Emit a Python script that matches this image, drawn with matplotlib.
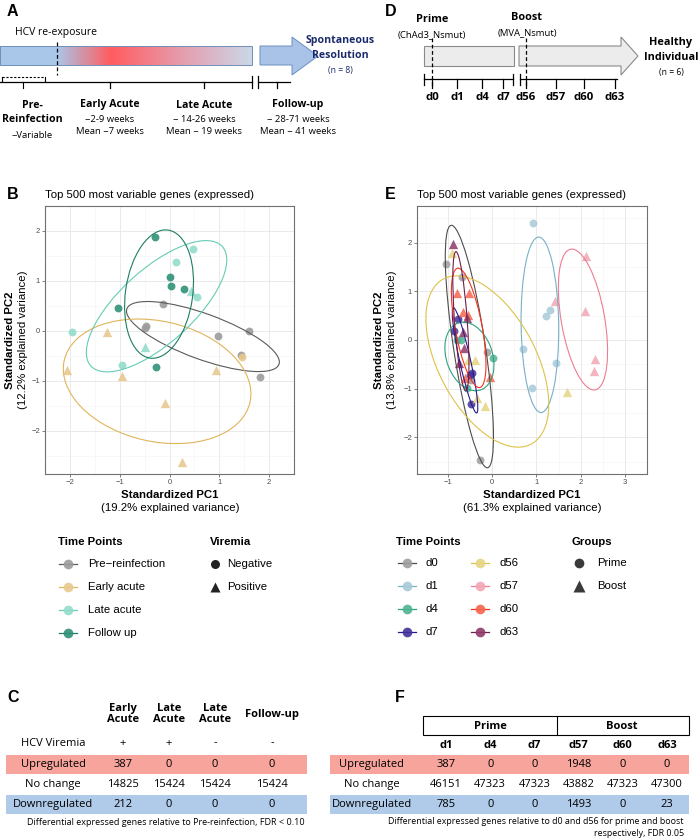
import numpy as np
import matplotlib
matplotlib.use("Agg")
import matplotlib.pyplot as plt
from matplotlib.patches import Ellipse, Rectangle, Polygon
from matplotlib.colors import LinearSegmentedColormap

plt.rcParams["font.family"] = ["Liberation Sans", "DejaVu Sans"]
SCHEME_FONT = ["Open Sans", "DejaVu Sans"]
FS = 8.2  # plot text size

# ---------------- data ----------------
# panel B: HCV reinfection PCA
b_groups = ["Pre\u2212reinfection", "Early acute", "Late acute", "Follow up"]
b_point_cols = ["#9b9b9b", "#e8c98e", "#93dccb", "#2f9178"]
b_line_cols = ["#5a5a5a", "#e0b45a", "#66ccb4", "#1d7d63"]
b_pc1 = [
    [-0.14, -0.48, -0.50, 0.97, 1.60, 1.43, 1.82],
    [-1.26, -2.06, -0.95, 0.93, -0.10, 0.25, 1.45],
    [0.47, 0.13, 0.55, -1.95, -0.96, 0.44, -0.50],
    [-0.30, 0.00, 0.04, 0.30, -1.03, -0.27],
]
b_pc2 = [
    [0.54, 0.10, 0.05, -0.10, 0.00, -0.48, -0.92],
    [-0.03, -0.78, -0.91, -0.78, -1.45, -2.62, -0.52],
    [1.64, 1.38, 0.67, -0.03, -0.69, 0.79, -0.32],
    [1.87, 1.07, 0.90, 0.83, 0.46, -0.72],
]
# 1 = viremia positive (triangle)
b_viremia = [
    [0, 0, 0, 0, 0, 0, 0],
    [1, 1, 1, 1, 1, 1, 0],
    [0, 0, 0, 0, 0, 1, 1],
    [0, 0, 0, 0, 0, 0],
]

# panel E: vaccine PCA
e_groups = ["d0", "d1", "d4", "d7", "d56", "d57", "d60", "d63"]
e_point_cols = ["#9e9e9e", "#a7cad9", "#4fb393", "#43329a",
                "#e6d482", "#f2a7b4", "#f7654e", "#8e3a69"]
e_line_cols = ["#4d4d4d", "#79b0c8", "#2da07c", "#2a1a8a",
               "#ddc24a", "#ee7c92", "#f5331e", "#6f1e4d"]
e_boost = [0, 0, 0, 0, 1, 1, 1, 1]
e_pc1 = [
    [-1.04, -0.68, -0.12, -0.47, -0.27],
    [0.92, 1.30, 1.21, 0.70, 1.44, 0.90],
    [-0.80, -0.70, 0.02, -0.58],
    [-0.78, -0.86, -0.45, -0.51, -0.47],
    [-0.90, -0.55, -0.39, 1.70, -0.35, -0.17],
    [2.12, 1.42, 2.09, 2.33, 2.30],
    [-0.80, -0.53, -0.65, -0.55, -0.04, -0.62],
    [-0.89, -0.58, -0.67, -0.64, -0.76],
]
e_pc2 = [
    [1.56, 1.30, -0.24, -0.82, -2.47],
    [2.41, 0.62, 0.50, -0.19, -0.48, -0.99],
    [0.00, 0.00, -0.36, -0.99],
    [0.43, 0.19, -0.68, -0.72, -1.31],
    [1.79, -0.41, -0.41, -1.07, -1.19, -1.36],
    [1.73, 0.80, 0.60, -0.40, -0.63],
    [0.97, 0.97, 0.58, 0.51, -0.76, -0.78],
    [1.96, 0.45, 0.16, -0.16, -0.48],
]

# panel A timeline labels
a_phases = ["Early Acute", "Late Acute", "Follow-up"]
a_ranges = ["~2-9 weeks", "~ 14-26 weeks", "~ 28-71 weeks"]
a_means = ["Mean ~7 weeks", "Mean ~ 19 weeks", "Mean ~ 41 weeks"]

# panel D timeline labels
d_days = ["d0", "d1", "d4", "d7", "d56", "d57", "d60", "d63"]

# table C
c_cols = ["Early\nAcute", "Late\nAcute", "Late\nAcute", "Follow-up"]
c_viremia = ["+", "+", "-", "-"]
c_up = [387, 0, 0, 0]
c_same = [14825, 15424, 15424, 15424]
c_down = [212, 0, 0, 0]

# table F
f_cols = ["d1", "d4", "d7", "d57", "d60", "d63"]
f_up = [387, 0, 0, 1948, 0, 0]
f_same = [46151, 47323, 47323, 43882, 47323, 47300]
f_down = [785, 0, 0, 1493, 0, 23]

row_names = ["Upregulated", "No change", "Downregulated"]
UP_COL = "#f7a59c"
DOWN_COL = "#b0cbe9"

W, H = 700, 838
fig = plt.figure(figsize=(W / 100, H / 100), dpi=100)
ax0 = fig.add_axes([0, 0, 1, 1])
ax0.axis("off")


def px_axes(left, top, right, bottom):
    return fig.add_axes([left / W, 1 - bottom / H, (right - left) / W, (bottom - top) / H])


def add_ellipse(ax, x, y, color, level=0.68):
    x = np.asarray(x)
    y = np.asarray(y)
    vals, vecs = np.linalg.eigh(np.cov(x, y))
    r = np.sqrt(-2 * np.log(1 - level))
    angle = np.degrees(np.arctan2(vecs[1, 1], vecs[0, 1]))
    ax.add_patch(Ellipse((x.mean(), y.mean()), 2 * r * np.sqrt(vals[1]),
                         2 * r * np.sqrt(vals[0]), angle=angle, fill=False,
                         ec=color, lw=0.8, zorder=3))


def style_pca(ax, xlim, ylim, xt, yt):
    ax.set_xlim(xlim)
    ax.set_ylim(ylim)
    ax.set_xticks(xt)
    ax.set_yticks(yt)
    ax.set_xticks(np.arange(xt[0] - 0.5, xt[-1] + 1, 1), minor=True)
    ax.set_yticks(np.arange(yt[0] - 0.5, yt[-1] + 1, 1), minor=True)
    ax.grid(which="major", color="#e6e6e6", lw=0.6)
    ax.grid(which="minor", color="#f3f3f3", lw=0.4)
    ax.set_axisbelow(True)
    for s in ax.spines.values():
        s.set_color("#707070")
        s.set_linewidth(0.8)
    ax.tick_params(which="major", length=2, width=0.5, color="#4d4d4d",
                   labelsize=5.5, labelcolor="#4d4d4d", pad=1.5)
    ax.tick_params(which="minor", length=0)


def letter(x, y, s):
    ax0.text(x, y, s, fontsize=11.5, fontweight="bold", va="center", ha="left")


# ---------------- panel A ----------------
letter(7, 12, "A")
ax0.text(15, 33, "HCV re-exposure", fontsize=7.5, family=SCHEME_FONT, va="center")
grad = LinearSegmentedColormap.from_list(
    "hcv", [(0, "#a9c7e8"), (0.225, "#a9c7e8"), (0.44, "#ff5c60"),
            (0.75, "#e2a3b4"), (1, "#cbd8e8")])
ax0.imshow(np.linspace(0, 1, 256)[None, :], cmap=grad, extent=(0, 252, 65, 46),
           aspect="auto", zorder=1)
ax0.add_patch(Rectangle((0, 46), 252, 19, fill=False, ec="#6f8fb8", lw=0.7, zorder=2))
ax0.plot([57, 57], [42, 75], color="k", lw=0.9, ls=(0, (3, 2)), zorder=3)
ax0.add_patch(Polygon([(260, 46), (292, 46), (292, 37), (318, 56), (292, 75),
                       (292, 65), (260, 65)], closed=True, fc="#a9c3e8",
                      ec="#6d8fbf", lw=0.7, zorder=2))
for i, s in enumerate(["Spontaneous", "Resolution"]):
    ax0.text(340, 40 + 15 * i, s, fontsize=7.6, fontweight="bold", color="#1b2a6b",
             family=SCHEME_FONT, ha="center", va="center", zorder=4)
ax0.text(340, 70, "(n = 8)", fontsize=6.2, color="#1b2a6b", family=SCHEME_FONT,
         ha="center", va="center", zorder=4)
# timeline
ax0.plot([0, 252], [82, 82], color="k", lw=0.9)
ax0.plot([252, 252], [76, 88], color="k", lw=0.9)
ax0.plot([258, 258], [76, 88], color="k", lw=0.9)
ax0.plot([258, 290], [82, 82], color="k", lw=0.9)
for tx in [110, 204, 277]:
    ax0.plot([tx, tx], [82, 88], color="k", lw=0.9)
ax0.plot([2, 45], [77, 77], color="k", lw=0.8, ls=(0, (2, 1.5)))
ax0.plot([2, 2], [77, 82], color="k", lw=0.8)
ax0.plot([45, 45], [77, 82], color="k", lw=0.8)
ax0.plot([23, 23], [82, 88], color="k", lw=0.8)
ax0.text(32, 105, "Pre-", fontsize=7.6, fontweight="bold", family=SCHEME_FONT, ha="center", va="center")
ax0.text(32, 120, "Reinfection", fontsize=7.6, fontweight="bold", family=SCHEME_FONT, ha="center", va="center")
ax0.text(32, 135, "~Variable", fontsize=6.8, family=SCHEME_FONT, ha="center", va="center")
for xc, ph, rg, mn in zip([110, 204, 298], a_phases, a_ranges, a_means):
    ax0.text(xc, 105, ph, fontsize=7.6, fontweight="bold", family=SCHEME_FONT, ha="center", va="center")
    ax0.text(xc, 119, rg, fontsize=6.8, family=SCHEME_FONT, ha="center", va="center")
    ax0.text(xc, 132, mn, fontsize=6.8, family=SCHEME_FONT, ha="center", va="center")

# ---------------- panel D ----------------
letter(385, 12, "D")
ax0.text(432, 20, "Prime", fontsize=7.8, fontweight="bold", family=SCHEME_FONT, ha="center", va="center")
ax0.text(432, 35, "(ChAd3_Nsmut)", fontsize=6.8, family=SCHEME_FONT, ha="center", va="center")
ax0.text(527, 17, "Boost", fontsize=7.8, fontweight="bold", family=SCHEME_FONT, ha="center", va="center")
ax0.text(527, 33, "(MVA_Nsmut)", fontsize=6.8, family=SCHEME_FONT, ha="center", va="center")
ax0.add_patch(Rectangle((424, 46), 90, 20, fc="#ececec", ec="#8a8a8a", lw=0.8, zorder=2))
ax0.add_patch(Polygon([(519, 46), (621, 46), (621, 37), (638, 56), (621, 75),
                       (621, 66), (519, 66)], closed=True, fc="#ececec",
                      ec="#8a8a8a", lw=0.8, zorder=2))
for i, s in enumerate(["Healthy", "Individual"]):
    ax0.text(671, 42 + 15 * i, s, fontsize=7.8, fontweight="bold", family=SCHEME_FONT,
             ha="center", va="center")
ax0.text(671, 73, "(n = 6)", fontsize=6.2, family=SCHEME_FONT, ha="center", va="center")
d_pos = [432, 457, 482, 503, 526, 556, 584, 615]
ax0.plot([424, 513], [79, 79], color="k", lw=0.9)
ax0.plot([520, 617], [79, 79], color="k", lw=0.9)
for xx in [424, 513, 520]:
    ax0.plot([xx, xx], [74, 85], color="k", lw=0.9)
for xx, lab in zip(d_pos, d_days):
    ax0.plot([xx, xx], [79, 88], color="k", lw=0.9)
    ax0.text(xx, 97, lab, fontsize=8.2, fontweight="bold", family=SCHEME_FONT, ha="center", va="center")
for xx in [432, 526]:
    ax0.plot([xx, xx], [38, 88], color="k", lw=0.9, ls=(0, (3, 2)), zorder=3)

# ---------------- panel B ----------------
letter(7, 194, "B")
ax0.text(45, 195, "Top 500 most variable genes (expressed)", fontsize=FS, va="center")
axb = px_axes(45, 206, 294, 474)
for k in range(len(b_groups)):
    x = np.array(b_pc1[k]); y = np.array(b_pc2[k]); v = np.array(b_viremia[k])
    axb.scatter(x[v == 0], y[v == 0], s=32, marker="o", color=b_point_cols[k], alpha=0.9, lw=0, zorder=2)
    axb.scatter(x[v == 1], y[v == 1], s=45, marker="^", color=b_point_cols[k], alpha=0.9, lw=0, zorder=2)
    add_ellipse(axb, x, y, b_line_cols[k])
style_pca(axb, (-2.35, 2.40), (-2.87, 2.26), [-2, -1, 0, 1, 2], [-2, -1, 0, 1, 2])
ax0.text(170, 495, "Standardized PC1", fontsize=FS, fontweight="bold", ha="center", va="center")
ax0.text(170, 508, "(19.2% explained variance)", fontsize=FS, ha="center", va="center")
ax0.text(10, 340, "Standardized PC2", fontsize=FS, fontweight="bold", ha="center", va="center", rotation=90)
ax0.text(23, 340, "(12.2% explained variance)", fontsize=FS, ha="center", va="center", rotation=90)

# legend B
ax0.text(58, 542, "Time Points", fontsize=FS, fontweight="bold", va="center")
for k, name in enumerate(b_groups):
    yy = 564 + 23 * k
    ax0.plot([59, 77], [yy, yy], color=b_line_cols[k], lw=0.9)
    ax0.plot(68, yy, "o", ms=7, color=b_point_cols[k], alpha=0.9, mec="none")
    ax0.text(88, yy, name, fontsize=FS, va="center")
ax0.text(210, 542, "Viremia", fontsize=FS, fontweight="bold", va="center")
for k, (mk, name) in enumerate([("o", "Negative"), ("^", "Positive")]):
    yy = 564 + 23 * k
    ax0.plot(215, yy, mk, ms=6.5 if mk == "o" else 7.5, color="#222222", mec="none")
    ax0.text(227, yy, name, fontsize=FS, va="center")

# ---------------- panel E ----------------
letter(385, 194, "E")
ax0.text(417, 195, "Top 500 most variable genes (expressed)", fontsize=FS, va="center")
axe = px_axes(417, 206, 647, 474)
for k in range(len(e_groups)):
    mk = "^" if e_boost[k] else "o"
    axe.scatter(e_pc1[k], e_pc2[k], s=45 if e_boost[k] else 32, marker=mk,
                color=e_point_cols[k], alpha=0.85, lw=0, zorder=2)
    add_ellipse(axe, e_pc1[k], e_pc2[k], e_line_cols[k])
style_pca(axe, (-1.70, 3.02), (-2.75, 2.75), [-1, 0, 1, 2, 3], [-2, -1, 0, 1, 2])
ax0.text(532, 495, "Standardized PC1", fontsize=FS, fontweight="bold", ha="center", va="center")
ax0.text(532, 508, "(61.3% explained variance)", fontsize=FS, ha="center", va="center")
ax0.text(379, 340, "Standardized PC2", fontsize=FS, fontweight="bold", ha="center", va="center", rotation=90)
ax0.text(392, 340, "(13.8% explained variance)", fontsize=FS, ha="center", va="center", rotation=90)

# legend E
ax0.text(396, 542, "Time Points", fontsize=FS, fontweight="bold", va="center")
for k, name in enumerate(e_groups):
    xx = 407 if k < 4 else 480
    yy = 563 + 23 * (k % 4)
    ax0.plot([xx - 9, xx + 9], [yy, yy], color=e_line_cols[k], lw=0.9)
    ax0.plot(xx, yy, "o", ms=7, color=e_point_cols[k], alpha=0.9, mec="none")
    ax0.text(xx + 19, yy, name, fontsize=FS, va="center")
ax0.text(572, 542, "Groups", fontsize=FS, fontweight="bold", va="center")
for k, (mk, name) in enumerate([("o", "Prime"), ("^", "Boost")]):
    yy = 563 + 23 * k
    ax0.plot(579, yy, mk, ms=7 if mk == "o" else 8, color="#3a3a3a", mec="none")
    ax0.text(597, yy, name, fontsize=FS, va="center")

# ---------------- table C ----------------
letter(7, 697, "C")
row_y = [764, 784, 804]
c_x = [123, 169, 215, 272]
for yy, col in zip([764, 804], [UP_COL, DOWN_COL]):
    ax0.add_patch(Rectangle((6, yy - 9.5), 301, 19, fc=col, ec="none", zorder=0))
for xx, hd, vir in zip(c_x, c_cols, c_viremia):
    ax0.text(xx, 714, hd, fontsize=8, fontweight="bold", family=SCHEME_FONT,
             ha="center", va="center", linespacing=1.1)
    ax0.text(xx, 743, vir, fontsize=8, family=SCHEME_FONT, ha="center", va="center")
ax0.text(53, 743, "HCV Viremia", fontsize=8, family=SCHEME_FONT, ha="center", va="center")
for yy, name, vals in zip(row_y, row_names, [c_up, c_same, c_down]):
    ax0.text(53, yy, name, fontsize=8, family=SCHEME_FONT, ha="center", va="center")
    for xx, v in zip(c_x, vals):
        ax0.text(xx, yy, str(v), fontsize=8, family=SCHEME_FONT, ha="center", va="center")
ax0.text(166, 822, "Differential expressed genes relative to Pre-reinfection, FDR < 0.10",
         fontsize=6.5, family=SCHEME_FONT, ha="center", va="center")

# ---------------- table F ----------------
letter(395, 697, "F")
f_x = np.linspace(446, 667, len(f_cols))
for yy, col in zip([764, 804], [UP_COL, DOWN_COL]):
    ax0.add_patch(Rectangle((330, yy - 9.5), 359, 19, fc=col, ec="none", zorder=0))
ax0.add_patch(Rectangle((423, 716), 266, 19, fill=False, ec="k", lw=0.8))
ax0.plot([557, 557], [716, 735], color="k", lw=0.8)
ax0.text(490, 726, "Prime", fontsize=8, fontweight="bold", family=SCHEME_FONT, ha="center", va="center")
ax0.text(622, 726, "Boost", fontsize=8, fontweight="bold", family=SCHEME_FONT, ha="center", va="center")
for xx, hd in zip(f_x, f_cols):
    ax0.text(xx, 745, hd, fontsize=8, fontweight="bold", family=SCHEME_FONT, ha="center", va="center")
for yy, name, vals in zip(row_y, row_names, [f_up, f_same, f_down]):
    ax0.text(372, yy, name, fontsize=8, family=SCHEME_FONT, ha="center", va="center")
    for xx, v in zip(f_x, vals):
        ax0.text(xx, yy, str(v), fontsize=8, family=SCHEME_FONT, ha="center", va="center")
ax0.text(684, 821, "Differential expressed genes relative to d0 and d56 for prime and boost",
         fontsize=6.4, family=SCHEME_FONT, ha="right", va="center")
ax0.text(684, 833, "respectively, FDR 0.05", fontsize=6.4, family=SCHEME_FONT, ha="right", va="center")

ax0.set_xlim(0, W)
ax0.set_ylim(H, 0)
fig.savefig("out.png", dpi=100)
